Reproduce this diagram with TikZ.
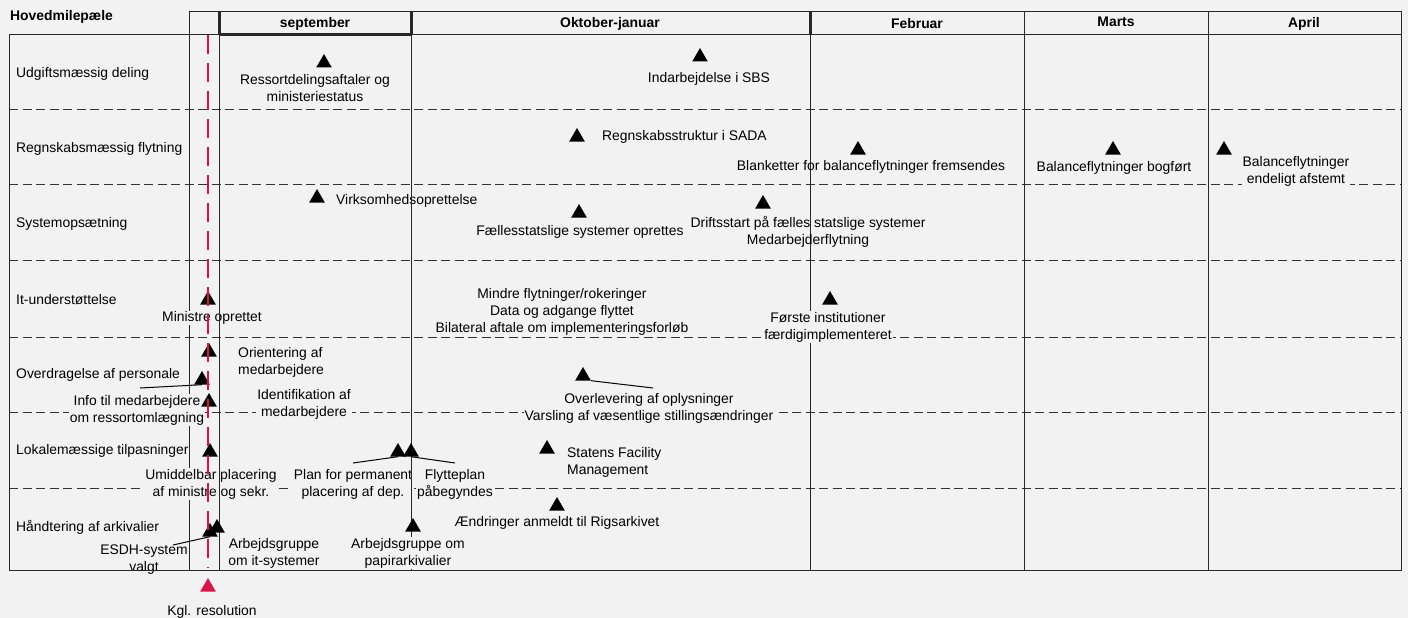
\documentclass[tikz,border=0pt]{standalone}
\usepackage{fontspec}
\setmainfont{Liberation Sans}
\usetikzlibrary{shapes.geometric, positioning, calc}
\definecolor{bgcolor}{RGB}{242,242,242}
\definecolor{kglred}{RGB}{214,22,70}
\definecolor{gridcolor}{RGB}{40,40,40}

\begin{document}
\begin{tikzpicture}[
    x=1pt, y=-1pt,
    font=\fontsize{13.9}{17}\selectfont,
    gridline/.style={draw=gridcolor, line width=1.5pt},
    headline/.style={draw=gridcolor, line width=2.3pt},
    rowsep/.style={draw=black!80, line width=1.5pt, dash pattern=on 9pt off 4.5pt},
    kglline/.style={draw=kglred, line width=2.7pt, dash pattern=on 19pt off 9pt},
    milestone/.style={regular polygon, regular polygon sides=3, fill=black, inner sep=0pt, minimum size=18pt},
    note/.style={fill=bgcolor, inner sep=1pt, align=center, yshift=-2pt},
    plainnote/.style={inner sep=1pt, align=center, yshift=-2pt},
    rowlbl/.style={anchor=west, inner sep=1pt, yshift=-2pt},
    month/.style={font=\fontsize{13.9}{17}\selectfont\bfseries, inner sep=1pt, yshift=-2pt},
    leader/.style={draw=black, line width=1pt}
]
    \useasboundingbox (0,0) rectangle (1408,618);
    \fill[bgcolor] (0,0) rectangle (1408,618);

    % Row separators and lines under the notes
    \foreach \y in {109.5, 184.5, 260.5, 337.5, 412.5, 488.5}
        \draw[rowsep] (9,\y) -- (1401,\y);
    \foreach \x in {189.5, 810.5, 1024.5, 1208.5}
        \draw[gridline] (\x,34) -- (\x,570);

    % Row titles
    \node[month, anchor=west] (hoved) at (9,15) {Hovedmilepæle};
    \node[rowlbl] (udg) at (15,72) {Udgiftsmæssig deling};
    \node[rowlbl] (regn) at (15,147) {Regnskabsmæssig flytning};
    \node[rowlbl] (sys) at (15,222) {Systemopsætning};
    \node[rowlbl] (it) at (15,298) {It-understøttelse};
    \node[rowlbl] (overd) at (15,373) {Overdragelse af personale};
    \node[rowlbl] (lok) at (15,449) {Lokalemæssige tilpasninger};
    \node[rowlbl] (arkiv) at (15,525) {Håndtering af arkivalier};

    % Notes
    \node[note] (ressort) at (315,86) {Ressortdelingsaftaler og\\ministeriestatus};
    \node[note] (sbs) at (709,77) {Indarbejdelse i SBS};
    \node[note, anchor=west] (sada) at (601,135) {Regnskabsstruktur i SADA};
    \node[plainnote] (blanket) at (871,165) {Blanketter for balanceflytninger fremsendes};
    \node[note] (bogfort) at (1114,166) {Balanceflytninger bogført};
    \node[note] (afstemt) at (1296,169.5) {Balanceflytninger\\endeligt afstemt};
    \node[note, anchor=west] (virk) at (335,199) {Virksomhedsoprettelse};
    \node[note] (faelles) at (580,230) {Fællesstatslige systemer oprettes};
    \node[plainnote] (drift) at (808,230) {Driftsstart på fælles statslige systemer\\Medarbejderflytning};
    \node[note] (ministre) at (212,316) {Ministre oprettet};
    \node[note] (mindre) at (562,310) {Mindre flytninger/rokeringer\\Data og adgange flyttet\\Bilateral aftale om implementeringsforløb};
    \node[note] (forste) at (828,325) {Første institutioner\\færdigimplementeret};
    \node[note, anchor=west, align=left] (orient) at (237,360) {Orientering af\\medarbejdere};
    \node[note] (info) at (137,408) {Info til medarbejdere\\om ressortomlægning};
    \node[note] (ident) at (304,402) {Identifikation af\\medarbejdere};
    \node[note] (overlev) at (649,406) {Overlevering af oplysninger\\Varsling af væsentlige stillingsændringer};
    \node[note] (umiddel) at (211,482) {Umiddelbar placering\\af ministre og sekr.};
    \node[note] (plan) at (353,482) {Plan for permanent\\placering af dep.};
    \node[note] (flytte) at (455,482) {Flytteplan\\påbegyndes};
    \node[note, anchor=west, align=left] (facility) at (566,460) {Statens Facility\\Management};
    \node[note] (aendr) at (557,521) {Ændringer anmeldt til Rigsarkivet};
    \node[plainnote] (esdh) at (144,558) {ESDH-system\\valgt};
    \node[note] (itgrp) at (274,551) {Arbejdsgruppe\\om it-systemer};
    \node[note] (kgltxt) at (212,610) {Kgl. resolution};

    % Frame and header
    \foreach \x in {219.5, 411.5}
        \draw[gridline] (\x,34) -- (\x,570);
    \node[note] (papir) at (408,551) {Arbejdsgruppe om\\papirarkivalier};
    \draw[gridline] (9.5,34.5) rectangle (1401.5,570.5);
    \draw[gridline] (189.5,11.5) rectangle (1401.5,34.5);
    \foreach \x in {219.5, 411.5, 810.5}
        \draw[headline] (\x,11) -- (\x,34);
    \foreach \x in {1024.5, 1208.5}
        \draw[gridline] (\x,11) -- (\x,34);
    \draw[headline] (219,34.5) -- (411,34.5);
    \node[month] (sep) at (315,22) {september};
    \node[month] (okt) at (610,22) {Oktober-januar};
    \node[month] (feb) at (917,22) {Februar};
    \node[month] (mar) at (1116,20) {Marts};
    \node[month] (apr) at (1304,22) {April};

    % Milestones
    \node[milestone] (m-ressort) at (324,63) {};
    \node[milestone] (m-sbs) at (700,57) {};
    \node[milestone] (m-sada) at (577,137) {};
    \node[milestone] (m-blanket) at (858,150) {};
    \node[milestone] (m-bogfort) at (1113,150) {};
    \node[milestone] (m-afstemt) at (1224,150) {};
    \node[milestone] (m-virk) at (317,198) {};
    \node[milestone] (m-faelles) at (579,213) {};
    \node[milestone] (m-drift) at (763,204) {};
    \node[milestone] (m-ministre) at (208,300) {};
    \node[milestone] (m-forste) at (830,300) {};
    \node[milestone] (m-orient) at (209,352) {};
    \node[milestone] (m-info) at (202,380) {};
    \node[milestone] (m-ident) at (209,402) {};
    \node[milestone] (m-overlev) at (583,376) {};
    \node[milestone] (m-umiddel) at (210,452) {};
    \node[milestone] (m-plan) at (398,452) {};
    \node[milestone] (m-flytte) at (411,452) {};
    \node[milestone] (m-facility) at (547,449) {};
    \node[milestone] (m-aendr) at (557,506) {};
    \node[milestone] (m-esdh) at (210,532) {};
    \node[milestone] (m-itgrp) at (217,528) {};
    \node[milestone] (m-papir) at (413,527) {};

    % Leader lines
    \coordinate (info end) at (140,388);
    \coordinate (overlev end) at (653,388);
    \coordinate (plan end) at (353,463);
    \coordinate (flytte end) at (455,463);
    \coordinate (esdh end) at (173,545);
    \draw[leader] (m-info.south) -- (info end);
    \draw[leader] (m-overlev.corner 3) -- (overlev end);
    \draw[leader] (m-plan.south) -- (plan end);
    \draw[leader] (m-flytte.south) -- (flytte end);
    \draw[leader] (m-esdh.south) -- (esdh end);

    % Kgl. resolution
    \coordinate (kgl top) at (208,35);
    \coordinate (kgl bottom) at (208,568);
    \draw[kglline] (kgl top) -- (kgl bottom);
    \node[milestone, fill=kglred] (kgl) at (208,587) {};
\end{tikzpicture}
\end{document}
